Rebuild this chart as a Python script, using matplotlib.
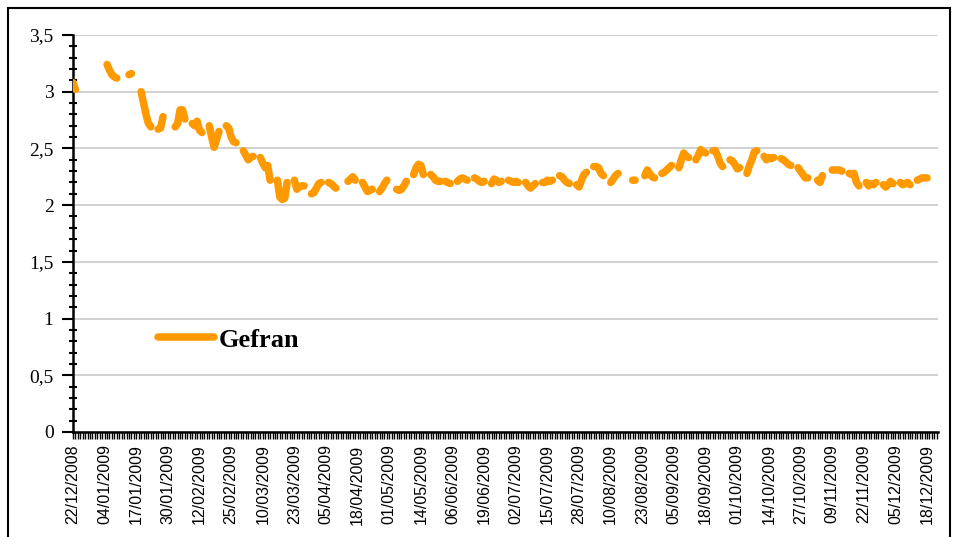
import numpy as np
import pandas as pd
import matplotlib
matplotlib.use("Agg")
import matplotlib.pyplot as plt
from matplotlib.patches import Rectangle
from matplotlib.ticker import MultipleLocator, FixedLocator, FuncFormatter

# category dates: daily, but the source sheet has no rows for 23/05 - 01/06
cat_start, cat_end = "2008-12-22", "2009-12-22"
skip_start, skip_end = "2009-05-23", "2009-06-01"

# closing prices, one row per week (Mon..Fri), None = no quote
week_mondays = [
    "2008-12-22", "2009-01-05", "2009-01-12", "2009-01-19", "2009-01-26",
    "2009-02-02", "2009-02-09", "2009-02-16", "2009-02-23", "2009-03-02",
    "2009-03-09", "2009-03-16", "2009-03-23", "2009-03-30", "2009-04-06",
    "2009-04-13", "2009-04-20", "2009-04-27", "2009-05-04", "2009-05-11",
    "2009-05-18", "2009-06-01", "2009-06-08", "2009-06-15", "2009-06-22",
    "2009-06-29", "2009-07-06", "2009-07-13", "2009-07-20", "2009-07-27",
    "2009-08-03", "2009-08-10", "2009-08-17", "2009-08-24", "2009-08-31",
    "2009-09-07", "2009-09-14", "2009-09-21", "2009-09-28", "2009-10-05",
    "2009-10-12", "2009-10-19", "2009-10-26", "2009-11-02", "2009-11-09",
    "2009-11-16", "2009-11-23", "2009-11-30", "2009-12-07", "2009-12-14",
]
week_prices = [
    [3.08, 3.02, None, None, None],
    [3.24, 3.19, 3.15, 3.13, 3.12],
    [3.08, None, 3.15, 3.16, None],
    [3.00, 2.90, 2.80, 2.72, 2.69],
    [2.67, 2.68, 2.78, None, None],
    [2.69, 2.72, 2.84, 2.84, 2.76],
    [2.72, 2.70, 2.74, 2.66, 2.64],
    [2.70, 2.60, 2.51, 2.58, 2.65],
    [2.70, 2.68, 2.60, 2.56, 2.55],
    [2.48, 2.44, 2.40, 2.42, 2.43],
    [2.42, 2.37, 2.33, 2.35, 2.22],
    [2.22, 2.07, 2.05, 2.06, 2.20],
    [2.22, 2.14, 2.16, 2.17, 2.17],
    [2.10, 2.11, 2.15, 2.19, 2.20],
    [2.20, 2.19, 2.17, 2.15, None],
    [None, 2.21, 2.23, 2.25, 2.22],
    [2.20, 2.16, 2.12, 2.13, 2.14],
    [2.12, 2.15, 2.19, 2.22, None],
    [2.14, 2.13, 2.14, 2.17, 2.21],
    [2.27, 2.33, 2.36, 2.35, 2.27],
    [2.27, 2.25, 2.22, 2.21, 2.21],
    [None, None, 2.21, 2.20, 2.19],
    [2.21, 2.23, 2.24, 2.23, 2.22],
    [2.24, 2.23, 2.21, 2.20, 2.21],
    [2.19, 2.23, 2.22, 2.20, 2.21],
    [2.22, 2.21, 2.20, 2.21, 2.20],
    [2.20, 2.17, 2.15, 2.17, 2.19],
    [2.20, 2.20, 2.22, 2.21, 2.22],
    [2.26, 2.25, 2.22, 2.20, 2.19],
    [2.18, 2.16, 2.22, 2.27, 2.29],
    [2.34, 2.34, 2.33, 2.28, 2.26],
    [2.20, 2.23, 2.26, 2.28, None],
    [None, None, 2.22, 2.22, None],
    [2.26, 2.31, 2.28, 2.25, 2.24],
    [2.28, 2.29, 2.31, 2.33, 2.35],
    [2.33, 2.40, 2.46, 2.43, 2.42],
    [2.40, 2.44, 2.49, 2.47, 2.46],
    [2.48, 2.48, 2.43, 2.37, 2.34],
    [2.40, 2.39, 2.36, 2.32, 2.33],
    [2.28, 2.35, 2.40, 2.47, 2.48],
    [2.43, 2.40, 2.42, 2.41, 2.42],
    [2.41, 2.40, 2.38, 2.36, 2.35],
    [2.33, 2.30, 2.27, 2.24, 2.24],
    [None, 2.22, 2.20, 2.26, None],
    [2.31, 2.31, 2.31, 2.31, 2.30],
    [2.28, 2.27, 2.28, 2.20, 2.17],
    [2.20, 2.17, 2.19, 2.18, 2.20],
    [2.18, 2.16, 2.18, 2.21, 2.19],
    [2.20, 2.18, 2.19, 2.20, 2.18],
    [2.22, 2.23, 2.24, 2.24, 2.24],
]
series_name = "Gefran"

# build category axis and daily values
days = pd.date_range(cat_start, cat_end, freq="D")
days = days[(days < skip_start) | (days > skip_end)]
price_by_day = {}
for monday, row in zip(week_mondays, week_prices):
    for k, v in enumerate(row):
        if v is not None:
            price_by_day[pd.Timestamp(monday) + pd.Timedelta(days=k)] = v
values = np.array([price_by_day.get(d, np.nan) for d in days])
idx = np.arange(len(days))

fig = plt.figure(figsize=(9.57, 5.37), dpi=100)
ax = fig.add_axes([73 / 957, 1 - 432 / 537, (938 - 73) / 957, (432 - 35) / 537])

ax.plot(idx, values, color="#FF9900", lw=5.4, solid_capstyle="round",
        solid_joinstyle="round", label=series_name, zorder=3)

ax.set_ylim(0, 3.5)
ax.set_xlim(0, len(days) - 0.5)
ax.yaxis.set_major_locator(MultipleLocator(0.5))
ax.yaxis.set_minor_locator(MultipleLocator(0.1))
ax.yaxis.set_major_formatter(FuncFormatter(lambda v, p: f"{v:g}".replace(".", ",")))
ax.grid(axis="y", which="major", color="#c8c8c8", lw=1.2)
ax.set_axisbelow(True)

major = idx[::13]
ax.xaxis.set_major_locator(FixedLocator(major))
ax.xaxis.set_minor_locator(FixedLocator(idx))
ax.set_xticklabels([days[i].strftime("%d/%m/%Y") for i in major], rotation=90,
                   fontfamily="Liberation Sans", fontsize=11.5)

for lab in ax.get_yticklabels():
    lab.set_fontfamily("Liberation Serif")
    lab.set_fontsize(14)

ax.tick_params(axis="y", which="major", direction="out", length=8, width=1.5, pad=6)
ax.tick_params(axis="y", which="minor", direction="inout", length=6, width=1.5)
ax.tick_params(axis="x", which="both", direction="out", length=5, width=1, pad=4)

for s in ["top", "right"]:
    ax.spines[s].set_visible(False)
for s in ["left", "bottom"]:
    ax.spines[s].set_linewidth(1.8)
    ax.spines[s].set_color("black")

leg = ax.legend(loc="center left", bbox_to_anchor=(0.071, 0.232), frameon=False,
                handlelength=2.1, handletextpad=0.2,
                prop={"family": "Liberation Serif", "weight": "bold", "size": 19})

# outer chart frame (bottom edge falls outside the image)
fig.add_artist(Rectangle((8 / 957, -0.05), (950 - 8) / 957, 1 - 8 / 537 + 0.05,
                         transform=fig.transFigure, fill=False, ec="black", lw=1.5))

fig.savefig("out.png", dpi=100)
